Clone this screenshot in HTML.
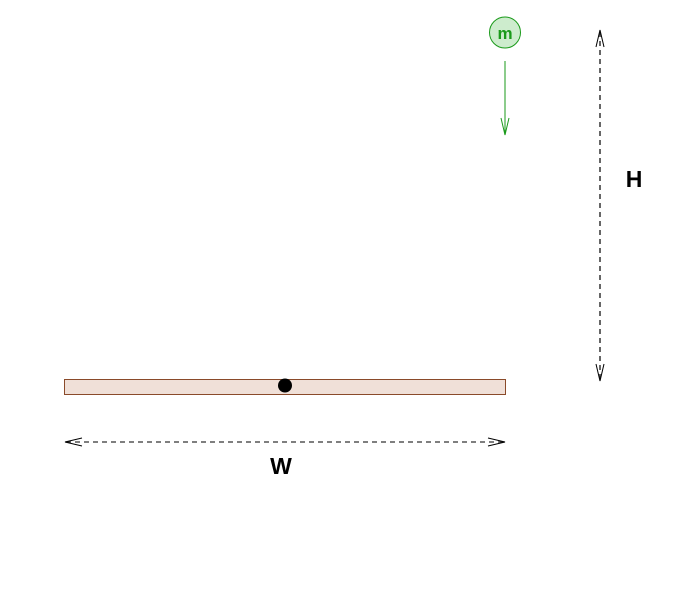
<!DOCTYPE html>
<html><head><style>html,body{margin:0;padding:0;background:#fff;}svg{display:block}</style></head>
<body>
<svg width="674" height="614" viewBox="0 0 674 614" xmlns="http://www.w3.org/2000/svg">
<circle cx="505" cy="32.5" r="15.5" fill="#cdeccd" stroke="#1a9a1a" stroke-width="1"/>
<text x="505" y="39" text-anchor="middle" font-family="Liberation Sans, sans-serif" font-weight="bold" font-size="17" fill="#1a9a1a">m</text>
<line x1="505" y1="61" x2="505" y2="135" stroke="#1a9a1a" stroke-width="1"/>
<polyline points="501,118 505,135 509,118" fill="none" stroke="#1a9a1a" stroke-width="1"/>
<line x1="600" y1="32" x2="600" y2="380" stroke="#333" stroke-width="1.5" stroke-dasharray="5,4"/>
<polyline points="596,47 600,30 604,47" fill="none" stroke="#000" stroke-width="1"/>
<polyline points="596,364 600,381 604,364" fill="none" stroke="#000" stroke-width="1"/>
<text x="634" y="187" text-anchor="middle" font-family="Liberation Sans, sans-serif" font-weight="bold" font-size="23">H</text>
<rect x="64.5" y="379.5" width="441" height="15" fill="#f0e0d8" stroke="#8a4a2a" stroke-width="1"/>
<circle cx="285" cy="385.5" r="7" fill="#000"/>
<line x1="66" y1="442" x2="504" y2="442" stroke="#333" stroke-width="1.2" stroke-dasharray="5,4"/>
<polyline points="82,438 65,442 82,446" fill="none" stroke="#000" stroke-width="1"/>
<polyline points="488,438 505,442 488,446" fill="none" stroke="#000" stroke-width="1"/>
<text x="281" y="474" text-anchor="middle" font-family="Liberation Sans, sans-serif" font-weight="bold" font-size="23">W</text>
</svg>
</body></html>
